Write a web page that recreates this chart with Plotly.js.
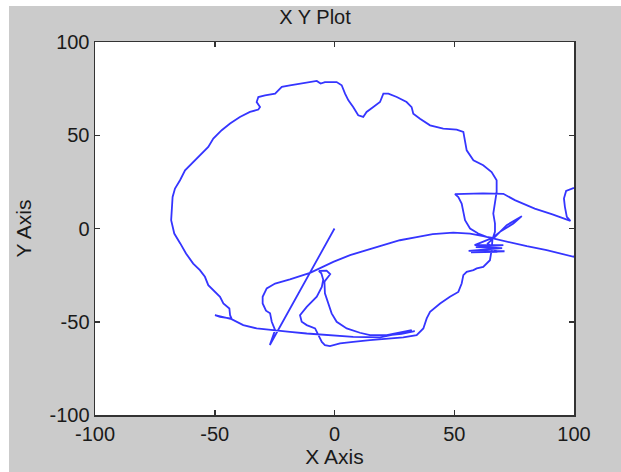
<!DOCTYPE html>
<html>
<head>
<meta charset="utf-8">
<script src="https://cdn.plot.ly/plotly-3.0.1.min.js"></script>
<style>
  html, body { margin: 0; padding: 0; background: #ffffff; width: 621px; height: 472px; overflow: hidden; }
  #chart { position: absolute; left: 9px; top: 6px; width: 612px; height: 466px; }
</style>
</head>
<body>
<div id="chart"></div>
<script>
// Trajectory, in drawing order (segments concatenated below)
const startX = [0, -27.0];
const startY = [0, -62.5];

const riseX = [-24.8, -26.2, -26.9, -28.6, -30.0, -30.0, -28.3, -24.8, -18.6, -13.0, -10.2];
const riseY = [-54.5, -50.0, -45.5, -44.1, -40.2, -36.6, -32.1, -29.5, -27.3, -25.0, -23.8];

const arcX = [-0.5, 6.5, 13.4, 20.4, 27.3, 34.3, 41.0, 49.6, 56.6, 62.1, 66.3, 71.9, 80.3, 88.6, 100.0, 104, 104];
const arcY = [-17.9, -14.3, -11.6, -8.9, -6.3, -4.6, -3.0, -2.2, -2.7, -4.1, -5.4, -7.2, -9.5, -11.6, -15.2, -5, 22];

const edgeX = [99.7, 96.7, 95.8, 96.2, 97.0, 98.5, 91.0, 83.6, 75.3, 70.5, 62.0, 56.6, 50.3, 51.7, 53.1, 53.8, 54.5, 56.6, 60.0, 63.5];
const edgeY = [21.6, 20.1, 16.1, 11.6, 6.2, 4.1, 7.6, 10.7, 15.2, 18.6, 18.8, 18.8, 18.4, 16.9, 13.4, 8.9, 4.4, 0.0, -2.7, -4.5];

const knotX = [66.0, 58.5, 70.5, 59.0, 70.0, 56.0, 71.0, 57.0, 68.0, 64.0, 67.0, 71.9, 78.2, 74.7, 69.1, 66.0];
const knotY = [-5.0, -8.9, -8.9, -10.0, -10.5, -12.0, -12.2, -12.8, -12.5, -8.0, -4.5, 1.8, 6.6, 2.7, -1.8, -5.0];

const lowX = [65.6, 64.9, 62.1, 59.4, 58.0, 55.2, 53.8, 53.1, 51.7, 48.2, 44.1, 39.9, 38.5, 37.1, 34.3, 28.7, 21.8, 14.8, 7.8, 2.3, -1.9, -4.0, -5.3, -6.8, -8.1, -11.6, -13.7, -14.4, -11.6, -7.4, -5.3];
const lowY = [-11.6, -17.0, -20.6, -21.4, -22.3, -23.2, -25.0, -29.5, -34.0, -36.6, -40.2, -44.7, -48.2, -53.6, -57.2, -58.4, -58.9, -59.8, -60.8, -61.6, -63.1, -62.5, -60.8, -57.2, -53.6, -51.8, -50.0, -46.5, -42.0, -36.6, -31.3];

const hookX = [-4.7, -5.5, -6.5, -3.3, -1.8, -3.0, -4.2, -4.0, -2.6, -1.2, 0.9, 5.1, 10.6, 14.8, 21.8, 27.3, 32.2, 30.0, 33.5, 28.0, 24.0];
const hookY = [-27.5, -24.0, -22.8, -22.6, -24.5, -26.8, -28.5, -34.8, -40.2, -45.5, -50.0, -53.6, -55.9, -57.2, -57.2, -55.9, -54.5, -56.0, -55.0, -56.5, -57.0];

const baseX = [19.0, 7.8, 2.3, -4.7, -11.6, -18.6, -24.8, -32.5, -38.1, -42.3, -43.6, -47.8, -49.9, -42.9];
const baseY = [-58.4, -58.1, -57.7, -57.2, -56.3, -55.4, -54.5, -53.6, -51.8, -49.1, -48.2, -47.4, -46.4, -48.6];

const loopX = [-43.6, -43.9, -46.4, -47.8, -50.6, -52.7, -54.1, -56.2, -59.0, -62.0, -64.4, -66.9, -68.2, -67.7, -67.6, -66.6, -64.5, -62.4, -59.6, -56.2, -52.7, -50.6, -47.1, -43.6, -39.5, -35.3, -31.8, -31.1, -32.5, -31.8, -29.0, -24.8, -22.0, -18.6, -13.0, -7.4, -5.8, -4.0, 0.9, 3.0, 4.4, 5.8, 7.8, 9.9, 12.0, 13.4, 16.2, 19.0, 20.4, 22.5, 26.0, 30.1, 32.2, 32.9, 35.7, 39.9, 45.4, 51.0, 53.8, 54.5, 55.2, 58.0, 62.1, 65.6, 67.7, 67.7, 67.0, 66.3, 67.0, 67.0, 66.3];
const loopY = [-46.5, -42.9, -40.2, -36.6, -33.1, -30.4, -25.9, -22.3, -18.8, -13.4, -8.0, -2.7, 4.4, 11.6, 16.9, 21.4, 25.9, 31.2, 34.8, 39.3, 43.7, 48.2, 52.7, 56.3, 59.8, 62.5, 63.8, 65.1, 67.8, 70.5, 71.4, 72.3, 75.9, 76.8, 78.0, 79.1, 77.7, 78.5, 78.5, 76.8, 72.3, 68.7, 65.1, 60.7, 59.8, 62.5, 65.1, 67.8, 72.3, 72.3, 70.5, 67.8, 65.1, 61.6, 58.9, 55.3, 53.6, 53.0, 51.8, 47.3, 41.9, 36.6, 33.9, 30.3, 25.9, 19.6, 13.4, 8.0, 2.7, -1.8, -4.5];

const tickVals = [-100, -50, 0, 50, 100];
const tickText = ['-100', '-50', '0', '50', '100'];

const xPath = [].concat(startX, riseX, arcX, edgeX, knotX, lowX, hookX, baseX, loopX);
const yPath = [].concat(startY, riseY, arcY, edgeY, knotY, lowY, hookY, baseY, loopY);

const fontFam = 'Liberation Sans, Arial, sans-serif';
const axisCommon = {
  range: [-100, 100],
  tickmode: 'array',
  tickvals: tickVals,
  ticktext: tickText,
  ticks: 'inside',
  ticklen: 5,
  tickwidth: 1.5,
  tickcolor: '#333333',
  showline: true,
  linecolor: '#333333',
  linewidth: 1.5,
  mirror: 'ticks',
  showgrid: false,
  zeroline: false,
  fixedrange: true,
  tickfont: { family: fontFam, size: 20, color: '#1a1a1a' }
};

const trace = {
  x: xPath,
  y: yPath,
  type: 'scatter',
  mode: 'lines',
  line: { color: '#3535ff', width: 1.8 },
  hoverinfo: 'skip'
};

const layout = {
  width: 612,
  height: 466,
  paper_bgcolor: '#cbcbcb',
  plot_bgcolor: '#ffffff',
  showlegend: false,
  margin: { l: 86, r: 47, t: 36, b: 57 },
  title: {
    text: 'X Y Plot',
    font: { family: fontFam, size: 20, color: '#1a1a1a' },
    x: 0.5, xanchor: 'center',
    y: 0.976, yref: 'container', yanchor: 'middle'
  },
  xaxis: Object.assign({}, axisCommon, {
    title: { text: 'X Axis', font: { family: fontFam, size: 21, color: '#1a1a1a' }, standoff: 6 }
  }),
  yaxis: Object.assign({}, axisCommon, {
    title: { text: 'Y Axis', font: { family: fontFam, size: 21, color: '#1a1a1a' }, standoff: 12 }
  })
};

Plotly.newPlot('chart', [trace], layout, { displayModeBar: false, staticPlot: true });
</script>
</body>
</html>
